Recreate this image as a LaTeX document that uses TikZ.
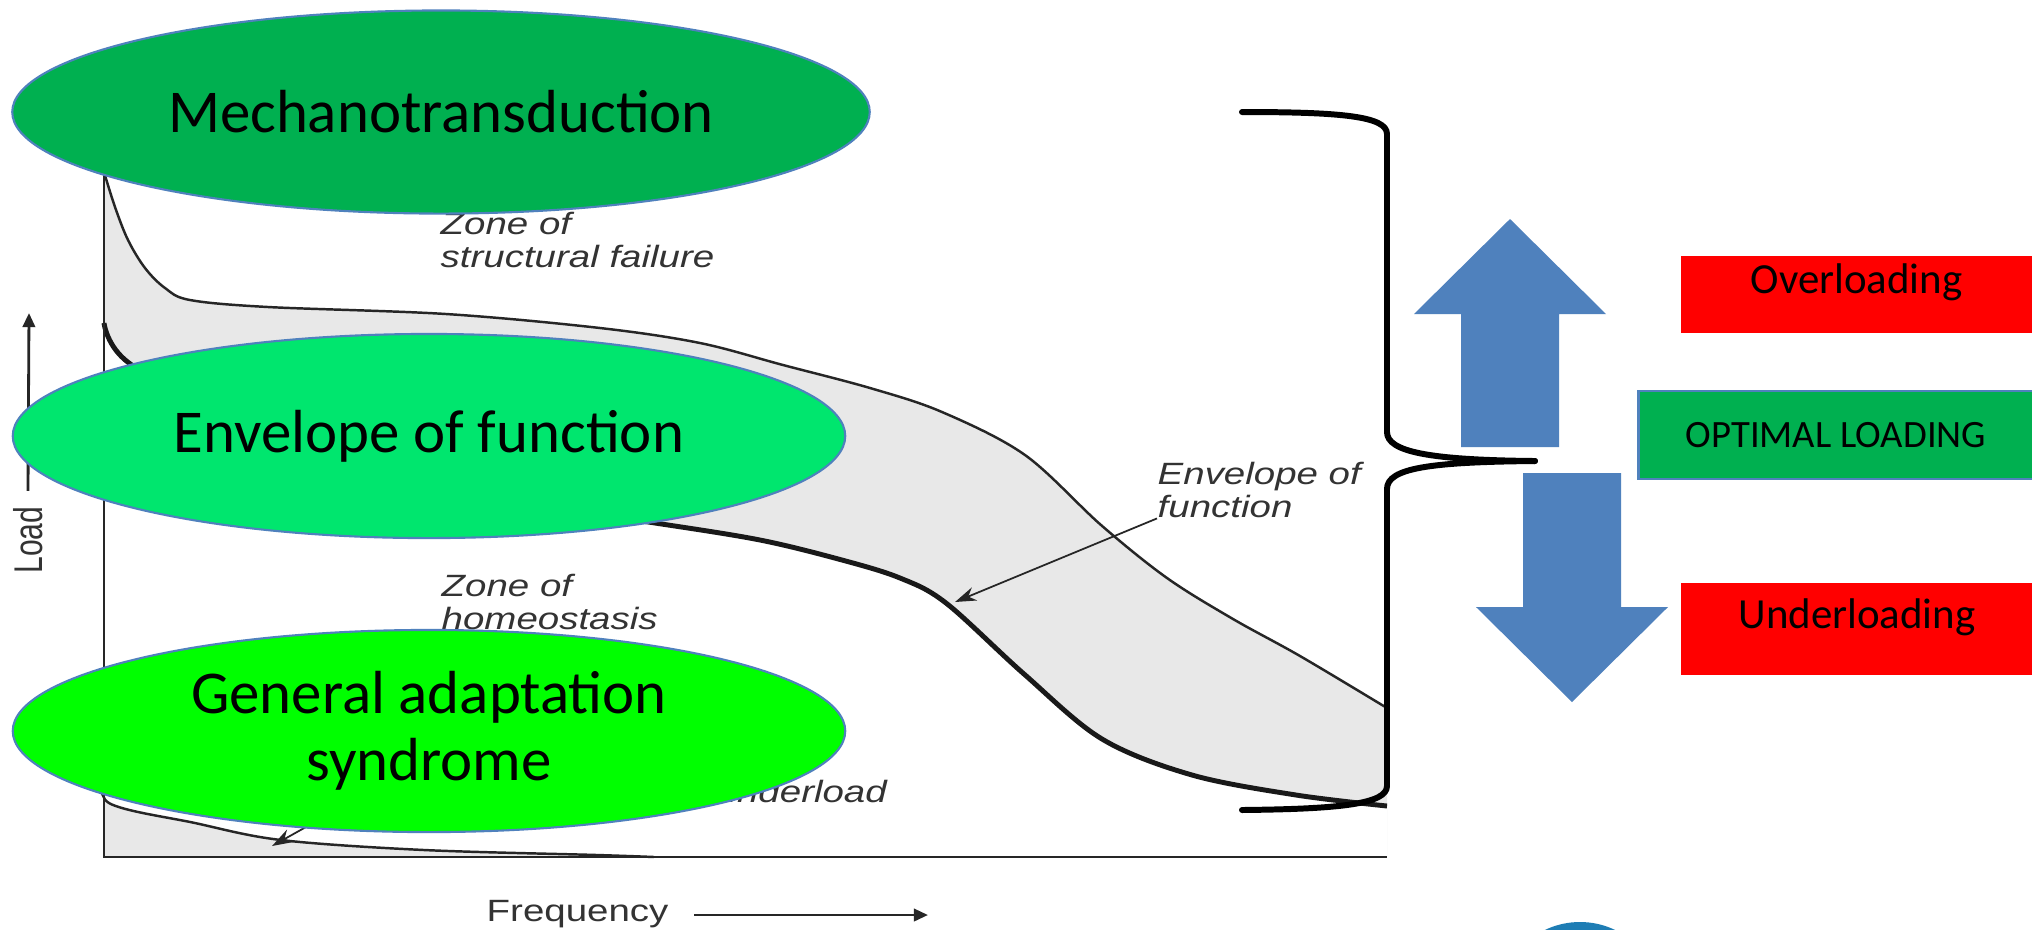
\documentclass[tikz,border=0pt]{standalone}
\usepackage{fontspec}
\setmainfont{Carlito}
\newfontfamily\plotfont[FakeStretch=1.25]{Liberation Sans}
\newfontfamily\loadfont[FakeStretch=0.75]{Liberation Sans}
\usepackage{tikz}
\usetikzlibrary{arrows.meta, shapes.geometric, positioning}
\definecolor{darkgreen}{RGB}{0,176,80}
\definecolor{midgreen}{RGB}{0,230,110}
\definecolor{limegreen}{RGB}{0,255,0}
\definecolor{edgeblue}{RGB}{79,129,189}
\definecolor{arrowblue}{RGB}{79,129,189}
\definecolor{alertred}{RGB}{255,0,0}
\definecolor{logoblue}{RGB}{30,125,180}
\definecolor{envfill}{RGB}{232,232,232}

\def\envtop{plot[smooth, tension=0.55] coordinates {(104,172) (115,207) (128,240) (145,268) (165,288) (190,300) (268,307) (446,314) (600,328) (700,343) (783,365) (870,388) (942,412) (1025,455) (1101,525) (1167,578) (1233,619) (1300,656) (1387,708)}}
\def\envbot{plot[smooth, tension=0.55] coordinates {(104,323) (129,363) (250,430) (400,482) (550,508) (655,523) (760,540) (842,560) (900,578) (946,603) (1024,674) (1102,739) (1192,775) (1296,795) (1387,806)}}
\def\underpts{plot[smooth, tension=0.55] coordinates {(104,770) (109,803) (195,823) (281,840) (424,850) (597,855) (654,857)}}

\begin{document}
\begin{tikzpicture}[
    x=0.01cm, y=-0.01cm,
    oval/.style={draw=edgeblue, line width=0.6pt, ellipse, inner sep=0pt, align=center,
                 font=\fontsize{17.3}{19}\selectfont},
    tag/.style={rectangle, inner sep=0pt, minimum width=3.51cm, text height=0.7em, text depth=0.75em,
                font=\fontsize{12.2}{14}\selectfont},
    zone/.style={font=\plotfont\itshape\fontsize{8.75}{9.5}\selectfont, text=black!80, align=left, inner sep=0pt},
    thincurve/.style={line width=0.7pt, black!85},
    thickcurve/.style={line width=1.4pt, black!90},
    axisptr/.style={-{Triangle[length=4pt, width=3.5pt]}, line width=0.8pt, black!85},
    ptr/.style={-{Stealth[length=6pt, width=4pt]}, line width=0.5pt, black!85},
    brace/.style={line width=1.7pt, line cap=round, line join=round},
    bigarrow/.style={fill=arrowblue},
  ]
  \useasboundingbox (0,0) rectangle (2032,929);
  \fill[white] (0,0) rectangle (2032,929);

  % load versus frequency chart
  \fill[envfill] \envtop -- (1387,857) -- (104,857) -- cycle;
  \fill[white] \envbot -- (1387,857) -- (104,857) -- cycle;
  \fill[envfill] \underpts -- (654,857) -- (104,857) -- cycle;
  \draw[thincurve] \envtop;
  \draw[thickcurve] \envbot;
  \draw[thincurve] \underpts;
  \coordinate (origin) at (104,857);
  \draw[line width=0.6pt, black!85] (104,170) -- (origin) -- (1387,857);

  \node[zone, anchor=north west] (failure) at (440,211) {Zone of\\structural failure};
  \node[zone, anchor=north west] (homeo) at (441,573) {Zone of\\homeostasis};
  \node[zone, anchor=north west] (envlabel) at (1157,461) {Envelope of\\function};
  \node[zone, anchor=base west] (under) at (715,802) {underload};
  \coordinate (envtip) at (955,602);
  \coordinate (undertip) at (272,846);
  \coordinate (underfoot) at (340,808);
  \draw[ptr] (envlabel.south west) -- (envtip);
  \draw[ptr] (underfoot) -- (undertip);

  \node[font=\plotfont\fontsize{8.75}{9.5}\selectfont, text=black!80, inner sep=0pt, anchor=base west] (freq) at (486,921) {Frequency};
  \coordinate (freqtip) at (928,915);
  \draw[axisptr] ([shift={(25,-6)}]freq.base east) -- (freqtip);
  \node[font=\loadfont\fontsize{11.4}{12}\selectfont, text=black!80, inner sep=0pt, rotate=90] (load) at (28,540) {Load};
  \coordinate (loadtip) at (29,313);
  \draw[axisptr] ([shift={(0,-15)}]load.east) -- (loadtip);

  % concepts laid over the chart
  \node[oval, fill=darkgreen, minimum width=8.57cm, minimum height=2.03cm] (mech) at (441,112) {Mechanotransduction};
  \node[oval, fill=midgreen, minimum width=8.32cm, minimum height=2.04cm] (env) at (429,436) {Envelope of function};
  \node[oval, fill=limegreen, minimum width=8.32cm, minimum height=2.02cm] (gas) at (429,731) {General adaptation\\syndrome};

  % brace round the envelope
  \coordinate (bracetip) at (1535,461);
  \draw[brace] (1242,112) .. controls (1340,112) and (1387,116) .. (1387,134) -- (1387,432)
    .. controls (1387,452) and (1430,460) .. (bracetip);
  \draw[brace] (bracetip) .. controls (1430,462) and (1387,468) .. (1387,489) -- (1387,786)
    .. controls (1387,804) and (1340,809) .. (1242,810);

  \fill[bigarrow] (1461,447) -- (1461,314) -- (1414,314) -- (1510,219) -- (1606,314) -- (1559,314) -- (1559,447) -- cycle;
  \fill[bigarrow] (1523,473) -- (1621,473) -- (1621,607) -- (1668,607) -- (1572,702) -- (1476,607) -- (1523,607) -- cycle;

  \node[tag, fill=alertred, minimum height=0.765cm] (over) at (1856.5,294.75) {Overloading};
  \node[tag, fill=darkgreen, draw=edgeblue, line width=0.8pt, minimum width=3.94cm, minimum height=0.88cm,
        text height=, text depth=, font=\fontsize{11}{13}\selectfont] (optimal) at (1836,435) {OPTIMAL LOADING};
  \node[tag, fill=alertred, minimum height=0.92cm] (underl) at (1857,629) {Underloading};

  \fill[logoblue] (1580,1003) circle (81);
\end{tikzpicture}
\end{document}
